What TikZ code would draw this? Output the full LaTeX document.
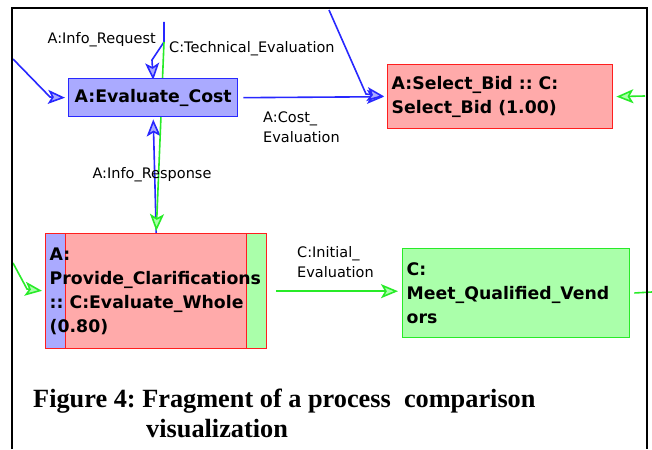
\documentclass[tikz,border=0pt]{standalone}
\usepackage{fontspec}
\setmainfont{Liberation Serif}
\newfontfamily\guifont{DejaVu Sans}
\usetikzlibrary{arrows.meta,backgrounds}
\definecolor{actA}{RGB}{170,170,255}
\definecolor{actC}{RGB}{170,255,170}
\definecolor{actM}{RGB}{255,170,170}
\definecolor{edgeA}{RGB}{40,40,255}
\definecolor{edgeC}{RGB}{40,235,40}
\definecolor{edgeM}{RGB}{255,30,30}
\frenchspacing

\begin{document}
\begin{tikzpicture}[x=1pt,y=-1pt,
  act/.style={rectangle,line width=1.4pt,inner sep=4pt,anchor=north west,
    align=flush left,font=\guifont\bfseries\fontsize{17.3}{24}\selectfont},
  msg/.style={inner sep=0pt,align=flush left,font=\guifont\fontsize{14.5}{20}\selectfont},
  flowA/.style={draw=edgeA,line width=1.6pt,
    -{Stealth[length=17pt,width=14pt,inset=4pt,fill=actA]}},
  flowC/.style={draw=edgeC,line width=1.6pt,
    -{Stealth[length=17pt,width=14pt,inset=4pt,fill=actC]}},
  caption/.style={anchor=base west,inner sep=0pt,font=\bfseries\fontsize{26.3}{30}\selectfont}]
  \useasboundingbox (0,0) rectangle (652,449);
  \draw[line width=1.8pt] (12,449) -- (12,8) -- (647,8) -- (647,449);

  % activities
  \node[act,fill=actA,draw=edgeA,align=center,minimum width=169pt,minimum height=38pt]
    (evc) at (68,78) {A:Evaluate\_Cost};
  \node[act,fill=actM,draw=edgeM,text width=217pt,minimum height=64pt]
    (sel) at (387,64) {A:Select\_Bid :: C:\\Select\_Bid (1.00)};
  \node[act,fill=actM,draw=edgeM,text width=213pt,minimum height=115pt,
    path picture={
      \fill[actA] (path picture bounding box.north west) rectangle
        ([xshift=20pt]path picture bounding box.south west);
      \fill[actC] ([xshift=-20pt]path picture bounding box.north east) rectangle
        (path picture bounding box.south east);
      \draw[edgeM,line width=1.4pt] ([xshift=20pt]path picture bounding box.north west)
        -- ([xshift=20pt]path picture bounding box.south west);
      \draw[edgeM,line width=1.4pt] ([xshift=-20pt]path picture bounding box.north east)
        -- ([xshift=-20pt]path picture bounding box.south east);
    }]
    (prov) at (45,233) {A:\\Provide\_Clarifications\\:: C:Evaluate\_Whole\\(0.80)};
  \node[act,fill=actC,draw=edgeC,text width=219pt,minimum height=89pt]
    (meet) at (402,248) {C:\\Meet\_Qualified\_Vend\\ors};

  % free ends
  \coordinate (in1) at (13,59);
  \coordinate (knee1) at (50,97);
  \coordinate (reqtop) at (164,22);
  \coordinate (reqbend) at (164,42);
  \coordinate (reqknee) at (152,60);
  \coordinate (top2) at (329,10);
  \coordinate (knee2) at (366,94);
  \coordinate (rin) at (645,96);
  \coordinate (lin) at (13,263);
  \coordinate (knee3) at (27,289);
  \coordinate (rout) at (652,292);

  \begin{scope}[on background layer]
    \draw[flowA] (in1) -- (knee1) -- ([shift={(-3pt,0)}]evc.west);
    \draw[flowA] (reqtop) -- (reqbend) -- (reqknee) -- ([shift={(0,-2pt)}]evc.north);
    \draw[flowA, shorten <=5pt, shorten >=3pt] (evc.east) -- (sel.west);
    \draw[flowA, shorten >=3pt] (top2) -- (knee2) -- (sel.west);
    \draw[flowA, shorten >=2pt] (prov.north) -- (evc.south);
    \draw[flowC, shorten >=2pt] (reqbend) -- (prov.north);
    \draw[flowC, shorten >=3pt] (rin) -- (sel.east);
    \draw[flowC, shorten >=3pt] (lin) -- (knee3) -- (prov.west);
    \draw[flowC, shorten <=9pt, shorten >=4pt] (prov.east) -- (prov.east -| meet.west);
    \draw[draw=edgeC, line width=1.6pt, shorten <=4pt] (meet.east) -- (rout);
  \end{scope}

  % message labels
  \node[msg,anchor=east] (lreq) at (156,40) {A:Info\_Request};
  \node[msg,anchor=west] (ltech) at (169,49) {C:Technical\_Evaluation};
  \node[msg] (lres) at (152,175) {A:Info\_Response};
  \node[msg,anchor=north west] (lcost) at (263,112) {A:Cost\_\\Evaluation};
  \node[msg,anchor=north west] (linit) at (297,246) {C:Initial\_\\Evaluation};

  \node[caption] (cap1) at (33,407) {Figure 4: Fragment of a process\ \ comparison};
  \node[caption] (cap2) at (146,437) {visualization};
\end{tikzpicture}
\end{document}
